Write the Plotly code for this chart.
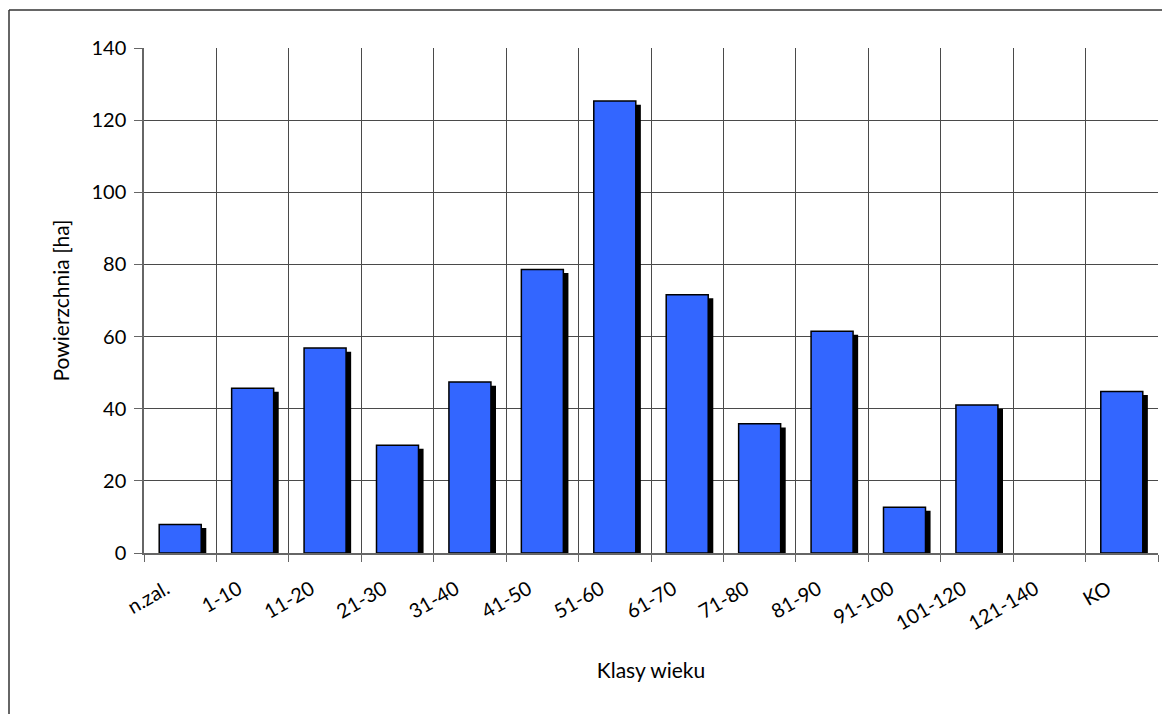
import plotly.graph_objects as go

# Age classes and stand area per class
categories = ["n.zal.", "1-10", "11-20", "21-30", "31-40", "41-50", "51-60",
              "61-70", "71-80", "81-90", "91-100", "101-120", "121-140", "KO"]
area_ha = [7.9, 45.7, 56.8, 29.9, 47.4, 78.6, 125.3,
           71.6, 35.8, 61.5, 12.7, 41.0, 0.0, 44.8]
y_ticks = [0, 20, 40, 60, 80, 100, 120, 140]

W, H = 1162, 714
L, R, T, B = 144, 4, 48, 161
pw, ph = W - L - R, H - T - B

bar_w = 0.58
shadow_dx = 0.07      # shadow shift in category units
shadow_dy = 1.0       # shadow drop in data units

FONT = "Lato"
GRID = "#4a4a4a"

fig = go.Figure()

# drop shadow behind each bar
fig.add_trace(go.Bar(
    x=categories,
    y=[max(v - shadow_dy, 0) for v in area_ha],
    width=bar_w,
    offset=-bar_w / 2 + shadow_dx,
    marker=dict(color="black", line=dict(width=0)),
    hoverinfo="skip",
    showlegend=False,
))

# main bars (no outline for empty classes)
fig.add_trace(go.Bar(
    x=categories,
    y=area_ha,
    width=bar_w,
    offset=-bar_w / 2,
    marker=dict(color="#3366FF",
                line=dict(color="black",
                          width=[1.5 if v > 0 else 0 for v in area_ha])),
    showlegend=False,
))

# outer chart frame (top and left edges)
def px_x(v):
    return (v - L) / pw

def px_y(v):
    return (H - B - v) / ph

fig.add_shape(type="line", xref="paper", yref="paper",
              x0=px_x(9), y0=px_y(10), x1=px_x(W + 5), y1=px_y(10),
              line=dict(color="#333333", width=1.5))
fig.add_shape(type="line", xref="paper", yref="paper",
              x0=px_x(9), y0=px_y(10), x1=px_x(9), y1=px_y(H + 5),
              line=dict(color="#333333", width=1.5))

fig.update_layout(
    width=W, height=H,
    margin=dict(l=L, r=R, t=T, b=B),
    paper_bgcolor="white",
    plot_bgcolor="white",
    barmode="overlay",
    font=dict(family=FONT, size=20, color="black"),
    xaxis=dict(
        type="category",
        tickson="boundaries",
        showgrid=True, gridcolor=GRID, gridwidth=1,
        ticks="outside", ticklen=7, tickcolor="#666666",
        showline=True, linecolor="#666666", linewidth=1.5,
        tickangle=-30,
        tickfont=dict(family=FONT, size=20),
        ticklabelstandoff=15,
        ticklabelshift=-14,
        title=dict(text="Klasy wieku", font=dict(family=FONT, size=21), standoff=30),
    ),
    yaxis=dict(
        range=[0, 140],
        tickvals=y_ticks,
        showgrid=True, gridcolor=GRID, gridwidth=1,
        ticks="outside", ticklen=8, tickcolor="#666666",
        showline=True, linecolor="#666666", linewidth=1.5,
        zeroline=False,
        tickfont=dict(family=FONT, size=20),
        ticklabelstandoff=4,
        title=dict(text="Powierzchnia [ha]", font=dict(family=FONT, size=21), standoff=16),
    ),
)

fig.write_html("out.html")
